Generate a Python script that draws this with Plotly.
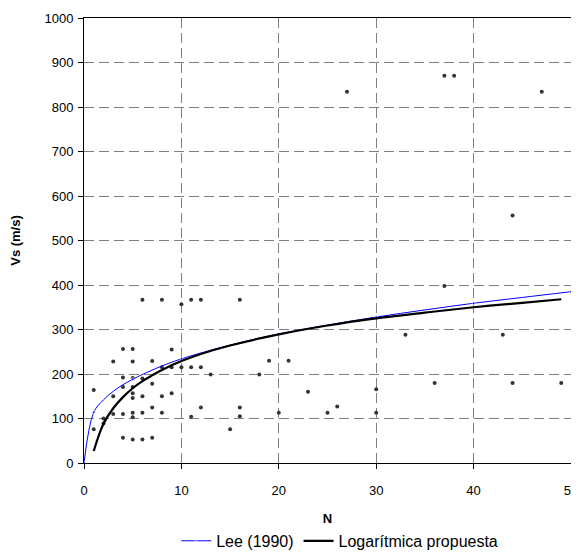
import plotly.graph_objects as go

# Measured scatter data (N, Vs)
obs_n = [1, 1,
         2, 2,
         3, 3, 3,
         4, 4, 4, 4, 4,
         5, 5, 5, 5, 5, 5, 5, 5, 5,
         6, 6, 6, 6, 6,
         7, 7, 7, 7,
         8, 8, 8, 8,
         9, 9, 9,
         10, 10,
         11, 11, 11,
         12, 12, 12,
         13, 15,
         16, 16, 16,
         18, 19, 20, 21, 23, 25, 26, 27,
         30, 30, 33, 36, 37, 37, 38,
         43, 44, 44, 47, 49]
obs_vs = [164, 76,
          100, 89,
          228, 150, 110,
          256, 192, 171, 110, 57,
          256, 228, 191, 171, 157, 146, 113, 103, 53,
          367, 190, 150, 113, 53,
          229, 178, 125, 57,
          367, 215, 150, 113,
          255, 215, 157,
          357, 215,
          367, 215, 104,
          367, 215, 125,
          199, 76,
          367, 125, 105,
          199, 230, 113, 230, 160, 113, 127, 834,
          166, 113, 288, 180, 398, 870, 870,
          288, 556, 180, 834, 180]

# Lee (1990) curve
lee_n = [0, 1, 2, 3, 4, 5, 6, 8, 10, 15, 20, 25, 30, 35, 40, 45, 50]
lee_vs = [0, 114, 142, 161, 176, 188, 199, 218, 234, 265, 290, 310, 328, 344, 359, 372, 385]
lee_marked = [0, 1, 5, 10, 20, 30, 40, 50]

# Logarithmic fit curve
log_n = [1, 2, 3, 4, 5, 6, 7, 8, 10, 12, 15, 20, 25, 30, 35, 40, 45, 49]
log_vs = [27, 88, 123, 148, 168, 184, 197, 209, 229, 245, 264, 289, 309, 325, 338, 350, 360, 368]

x_ticks = [0, 10, 20, 30, 40, 50]
y_ticks = [0, 100, 200, 300, 400, 500, 600, 700, 800, 900, 1000]

FONT = "Liberation Sans, Arial, sans-serif"

fig = go.Figure()
fig.add_trace(go.Scatter(x=obs_n, y=obs_vs, mode="markers",
                         marker=dict(color="#333333", size=4),
                         showlegend=False))
fig.add_trace(go.Scatter(x=lee_n, y=lee_vs, mode="lines+markers", name="Lee (1990)",
                         line=dict(color="#0000FF", width=1, shape="spline"),
                         marker=dict(color="#0000FF",
                                     size=[3 if n in lee_marked else 0 for n in lee_n])))
fig.add_trace(go.Scatter(x=log_n, y=log_vs, mode="lines", name="Logarítmica propuesta",
                         line=dict(color="#000000", width=2.2, shape="spline")))

axis_common = dict(
    showline=True, linecolor="#000000", linewidth=1, mirror=True,
    showgrid=True, gridcolor="#808080", gridwidth=1, griddash="10px,5px",
    zeroline=False, ticks="outside", ticklen=5, tickcolor="#000000",
    tickfont=dict(family=FONT, size=13, color="#000000"),
    automargin=False,
)

fig.update_xaxes(range=[0, 50], tickvals=x_ticks, ticklabelstandoff=10,
                 title=dict(text="<b>N</b>", font=dict(family=FONT, size=13, color="#000"),
                            standoff=17),
                 **axis_common)
fig.update_yaxes(range=[0, 1000], tickvals=y_ticks, ticklabelstandoff=2,
                 title=dict(text="<b>Vs (m/s)</b>", font=dict(family=FONT, size=13, color="#000"),
                            standoff=26),
                 **axis_common)

# The page body adds an 8px offset; the figure is sized so the plot area
# lands at x 84..571, y 18..463 in the 579x554 window.
fig.update_layout(
    width=571, height=546,
    margin=dict(l=76, r=8, t=10, b=91, autoexpand=False),
    paper_bgcolor="#ffffff", plot_bgcolor="#ffffff",
    font=dict(family=FONT, size=13, color="#000"),
    legend=dict(orientation="h", x=0.525, xanchor="center", y=-0.175, yanchor="middle",
                font=dict(size=16), itemwidth=30, tracegroupgap=0),
)

fig.write_html("out.html")
